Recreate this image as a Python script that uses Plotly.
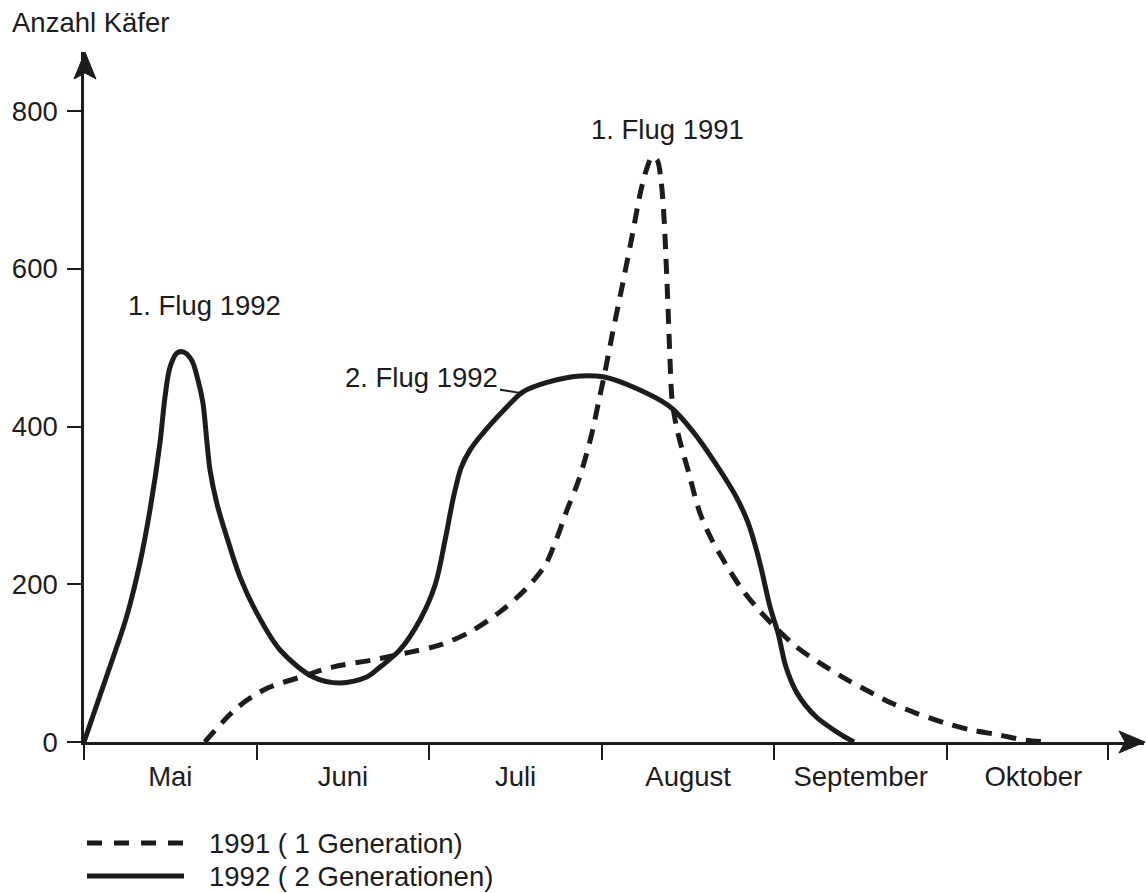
import plotly.graph_objects as go

# ---------------- data ----------------
months = ["Mai", "Juni", "Juli", "August", "September", "Oktober"]
month_bounds = [0, 1, 2, 3, 4, 5, 5.93]          # tick marks between months
month_centers = [0.5, 1.5, 2.5, 3.5, 4.5, 5.5]   # label positions
y_ticks = [0, 200, 400, 600, 800]

# 1991 (1 Generation) - dashed
x_1991 = [0.70, 0.89, 1.06, 1.25, 1.44, 1.67, 1.89, 2.063, 2.236, 2.410, 2.555, 2.671,
          2.735, 2.798, 2.856, 2.897, 2.943, 2.984, 3.018, 3.059, 3.117, 3.175, 3.227,
          3.262, 3.291, 3.320, 3.343, 3.361, 3.372, 3.384, 3.395, 3.407, 3.430, 3.459,
          3.499, 3.569, 3.638, 3.714, 3.801, 3.911, 4.021, 4.131, 4.264, 4.397, 4.531,
          4.681, 4.815, 4.988, 5.145, 5.301, 5.452, 5.585]
y_1991 = [0, 44, 68, 82, 95, 104, 114, 123, 139.5, 165, 193, 224,
          256, 294, 326, 354, 392, 434, 469, 515, 577, 641, 700,
          728, 742, 738, 712, 662, 611, 548, 484, 434, 402, 376,
          345, 290, 256, 227, 197, 167, 142, 120, 100, 82, 66,
          49, 37, 24, 15, 9, 2.5, 0]

# 1992 (2 Generationen) - solid
x_1992 = [0, 0.170, 0.247, 0.324, 0.382, 0.440, 0.469, 0.498, 0.537, 0.574, 0.624, 0.660,
          0.689, 0.711, 0.730, 0.769, 0.827, 0.904, 1.001, 1.136, 1.327, 1.483, 1.638,
          1.715, 1.831, 1.947, 2.034, 2.092, 2.140, 2.185, 2.236, 2.294, 2.451, 2.543,
          2.683, 2.874, 3.007, 3.181, 3.395, 3.534, 3.644, 3.778, 3.847, 3.911, 3.975,
          4.021, 4.067, 4.131, 4.241, 4.374, 4.461]
y_1992 = [0, 108, 159, 227, 294, 379, 437, 475, 493, 494.5, 484, 459,
          430, 383, 345, 303, 260, 209, 163.5, 116.6, 82.4, 74.8, 82.4,
          95, 117, 155, 199, 256, 310, 348, 370, 387, 425, 444,
          456, 464, 463, 450, 425, 392, 358, 311, 278, 231, 171,
          138, 95, 62, 32, 11, 0]

# ---------------- geometry ----------------
W, H = 1146, 893
L, R, T, B = 84, 2, 52, 151
X_MAX = 6.141
Y_MAX = 874.8
PW, PH = W - L - R, H - T - B
INK = "#1c1c1c"
FONT = "Liberation Sans, Arial, sans-serif"
FS = 27.5


def px(xp):
    return (xp - L) / PW


def py(yp):
    return (H - B - yp) / PH


fig = go.Figure()

fig.add_trace(go.Scatter(
    x=x_1991, y=y_1991, mode="lines", xaxis="x", yaxis="y",
    line=dict(color=INK, width=5, dash="15px,10px", shape="spline", smoothing=0.9),
    showlegend=False, hoverinfo="skip"))
fig.add_trace(go.Scatter(
    x=x_1992, y=y_1992, mode="lines", xaxis="x", yaxis="y",
    line=dict(color=INK, width=5, shape="spline", smoothing=0.9),
    showlegend=False, hoverinfo="skip"))

shapes = []
# arrowheads on the axes
ya = [(85, 52), (74, 79), (85, 73), (96, 79)]
xa = [(1145, 742), (1119, 731), (1125, 742), (1119, 753)]
for pts in (ya, xa):
    path = "M " + " L ".join(f"{px(a):.5f},{py(b):.5f}" for a, b in pts) + " Z"
    shapes.append(dict(type="path", xref="paper", yref="paper", path=path,
                       fillcolor=INK, line=dict(color=INK, width=1)))

# legend samples
shapes.append(dict(type="line", xref="paper", yref="paper",
                   x0=px(87), x1=px(184), y0=py(843), y1=py(843),
                   line=dict(color=INK, width=5, dash="15px,12px")))
shapes.append(dict(type="line", xref="paper", yref="paper",
                   x0=px(87), x1=px(184), y0=py(876), y1=py(876),
                   line=dict(color=INK, width=5)))

annotations = [
    dict(text="Anzahl Käfer", xref="paper", yref="paper", x=px(10), y=py(22),
         xanchor="left", yanchor="middle", showarrow=False, font=dict(size=FS)),
    dict(text="1. Flug 1992", xref="x", yref="y", x=0.70, y=553,
         xanchor="center", yanchor="middle", showarrow=False, font=dict(size=FS)),
    dict(text="1. Flug 1991", xref="x", yref="y", x=3.38, y=776,
         xanchor="center", yanchor="middle", showarrow=False, font=dict(size=FS)),
    dict(text="2. Flug 1992", xref="x", yref="y", x=2.543, y=442,
         ax=-101, ay=-16, showarrow=True, arrowhead=0, arrowwidth=2, arrowcolor=INK,
         font=dict(size=FS)),
    dict(text="1991 ( 1 Generation)", xref="paper", yref="paper", x=px(207), y=py(843),
         xanchor="left", yanchor="middle", showarrow=False, font=dict(size=FS)),
    dict(text="1992 ( 2 Generationen)", xref="paper", yref="paper", x=px(207), y=py(876),
         xanchor="left", yanchor="middle", showarrow=False, font=dict(size=FS)),
]

fig.update_layout(
    width=W, height=H,
    margin=dict(l=L, r=R, t=T, b=B, pad=0),
    paper_bgcolor="white", plot_bgcolor="white",
    font=dict(family=FONT, size=FS, color=INK),
    showlegend=False,
    xaxis=dict(range=[0, X_MAX], tickmode="array", tickvals=month_bounds,
               showticklabels=False, ticks="outside", ticklen=15, tickwidth=2,
               tickcolor=INK, showline=True, linecolor=INK, linewidth=2.5,
               showgrid=False, zeroline=False, fixedrange=True),
    xaxis2=dict(range=[0, X_MAX], overlaying="x", matches="x", anchor="y", side="bottom",
                tickmode="array", tickvals=month_centers, ticktext=months,
                ticks="", ticklabelstandoff=15, showline=False,
                showgrid=False, zeroline=False, fixedrange=True),
    yaxis=dict(range=[0, Y_MAX], tickmode="array", tickvals=y_ticks,
               ticks="outside", ticklen=14, tickwidth=2, tickcolor=INK,
               ticklabelstandoff=4,
               showline=True, linecolor=INK, linewidth=2.5,
               showgrid=False, zeroline=False, fixedrange=True),
    shapes=shapes,
    annotations=annotations,
)
# dummy trace so xaxis2 is drawn
fig.add_trace(go.Scatter(x=[None], y=[None], xaxis="x2", yaxis="y",
                         showlegend=False, hoverinfo="skip"))

fig.write_html("out.html", config={"displayModeBar": False},
               post_script="document.body.style.margin='0';document.body.style.padding='0';")
